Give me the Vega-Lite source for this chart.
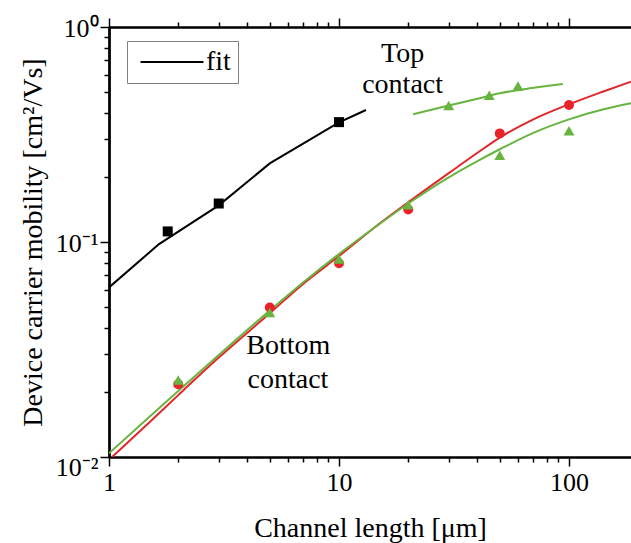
{
  "$schema": "https://vega.github.io/schema/vega-lite/v6.json",
  "width": 522,
  "height": 430,
  "autosize": {"type": "none"},
  "padding": {"left": 109, "top": 27, "right": 0, "bottom": 86},
  "config": {
    "view": {"stroke": null},
    "font": "Liberation Serif",
    "axis": {
      "domainColor": "black",
      "domainWidth": 2,
      "labelFont": "Liberation Serif",
      "labelFontSize": 26,
      "labelColor": "black",
      "titleFont": "Liberation Serif",
      "titleFontSize": 28,
      "titleFontWeight": "normal",
      "titleColor": "black",
      "labelOverlap": false,
      "labelFlush": false,
      "labelBound": false
    }
  },
  "datasets": {
    "redFit": [
      {"x": 1, "y": 0.0097}, {"x": 1.5, "y": 0.0145}, {"x": 2, "y": 0.0194}, {"x": 3, "y": 0.029},
      {"x": 5, "y": 0.0466}, {"x": 7, "y": 0.064}, {"x": 10, "y": 0.086}, {"x": 14, "y": 0.115},
      {"x": 20, "y": 0.153}, {"x": 30, "y": 0.209}, {"x": 40, "y": 0.26}, {"x": 50, "y": 0.306},
      {"x": 70, "y": 0.372}, {"x": 100, "y": 0.437}, {"x": 140, "y": 0.5}, {"x": 186, "y": 0.557}
    ],
    "greenFit": [
      {"g": "bottom", "x": 1, "y": 0.0104}, {"g": "bottom", "x": 1.5, "y": 0.0154}, {"g": "bottom", "x": 2, "y": 0.0203},
      {"g": "bottom", "x": 3, "y": 0.0298}, {"g": "bottom", "x": 5, "y": 0.048}, {"g": "bottom", "x": 7, "y": 0.065},
      {"g": "bottom", "x": 10, "y": 0.088}, {"g": "bottom", "x": 14, "y": 0.115}, {"g": "bottom", "x": 20, "y": 0.151},
      {"g": "bottom", "x": 30, "y": 0.2}, {"g": "bottom", "x": 40, "y": 0.238}, {"g": "bottom", "x": 50, "y": 0.27},
      {"g": "bottom", "x": 70, "y": 0.322}, {"g": "bottom", "x": 100, "y": 0.372}, {"g": "bottom", "x": 140, "y": 0.413},
      {"g": "bottom", "x": 186, "y": 0.442},
      {"g": "top", "x": 21, "y": 0.393}, {"g": "top", "x": 30, "y": 0.431}, {"g": "top", "x": 40, "y": 0.464},
      {"g": "top", "x": 50, "y": 0.492}, {"g": "top", "x": 65, "y": 0.515}, {"g": "top", "x": 80, "y": 0.531},
      {"g": "top", "x": 94, "y": 0.543}
    ],
    "blackFit": [
      {"series": "fit", "x": 1, "y": 0.0615}, {"series": "fit", "x": 1.65, "y": 0.0978}, {"series": "fit", "x": 3, "y": 0.148},
      {"series": "fit", "x": 5, "y": 0.232}, {"series": "fit", "x": 10, "y": 0.36}, {"series": "fit", "x": 13.1, "y": 0.411}
    ],
    "blackPts": [
      {"x": 1.8, "y": 0.112}, {"x": 3, "y": 0.151}, {"x": 10, "y": 0.361}
    ],
    "redPts": [
      {"x": 2, "y": 0.0218}, {"x": 5, "y": 0.0496}, {"x": 10, "y": 0.0797},
      {"x": 20, "y": 0.1417}, {"x": 50, "y": 0.32}, {"x": 100, "y": 0.434}
    ],
    "greenPts": [
      {"x": 2, "y": 0.0228}, {"x": 5, "y": 0.047}, {"x": 10, "y": 0.0833},
      {"x": 20, "y": 0.149}, {"x": 50, "y": 0.253}, {"x": 100, "y": 0.329},
      {"x": 30, "y": 0.431}, {"x": 45, "y": 0.482}, {"x": 60, "y": 0.532}
    ],
    "notes": [
      {"x": 18.9, "y": 0.69, "t": "Top"},
      {"x": 18.9, "y": 0.492, "t": "contact"},
      {"x": 6.02, "y": 0.03, "t": "Bottom"},
      {"x": 6.0, "y": 0.0209, "t": "contact"}
    ]
  },
  "resolve": {"axis": {"x": "independent", "y": "independent"}},
  "layer": [
    {
      "data": {"name": "redFit"},
      "mark": {"type": "line", "color": "#e3262b", "strokeWidth": 2, "interpolate": "monotone", "clip": true},
      "encoding": {
        "x": {
          "field": "x", "type": "quantitative",
          "scale": {"type": "log", "domain": [1, 186], "nice": false},
          "axis": {
            "orient": "bottom",
            "grid": false,
            "title": "Channel length [μm]",
            "titleY": 79,
            "titleBaseline": "alphabetic",
            "values": [1, 10, 100],
            "labelExpr": "format(datum.value, 'd')",
            "labelBaseline": "alphabetic",
            "tickColor": "black",
            "tickWidth": 1.5,
            "tickSize": 9,
            "labelPadding": 24
          }
        },
        "y": {
          "field": "y", "type": "quantitative",
          "scale": {"type": "log", "domain": [0.01, 1], "nice": false},
          "axis": {
            "orient": "left",
            "grid": false,
            "title": "Device carrier mobility [cm²/Vs]",
            "titleX": -68,
            "titleY": 215,
            "titleBaseline": "alphabetic",
            "values": [0.1, 1],
            "labelExpr": "datum.value == 1 ? '10⁰' : '10⁻¹'",
            "labelAlign": "right",
            "labelBaseline": "middle",
            "tickColor": "black",
            "tickWidth": 1.5,
            "tickSize": 9,
            "labelPadding": 2,
            "labelOffset": 1
          }
        }
      }
    },
    {
      "data": {"name": "greenFit"},
      "mark": {"type": "line", "color": "#67b441", "strokeWidth": 2, "interpolate": "monotone", "clip": true},
      "encoding": {
        "x": {
          "field": "x", "type": "quantitative",
          "scale": {"type": "log", "domain": [1, 186], "nice": false},
          "axis": {
            "orient": "bottom",
            "grid": false,
            "title": null,
            "labels": false,
            "values": [2, 3, 4, 5, 6, 7, 8, 9, 20, 30, 40, 50, 60, 70, 80, 90],
            "tickColor": "black",
            "tickWidth": 1.5,
            "tickSize": 5
          }
        },
        "y": {
          "field": "y", "type": "quantitative",
          "scale": {"type": "log", "domain": [0.01, 1], "nice": false},
          "axis": {
            "orient": "left",
            "grid": false,
            "title": null,
            "values": [0.01],
            "labelExpr": "'10⁻²'",
            "labelAlign": "right",
            "labelBaseline": "middle",
            "tickColor": "black",
            "tickWidth": 1.5,
            "tickSize": 9,
            "labelPadding": 2,
            "labelOffset": 10
          }
        },
        "detail": {"field": "g"}
      }
    },
    {
      "data": {"name": "blackFit"},
      "mark": {"type": "line", "strokeWidth": 2, "clip": true},
      "encoding": {
        "x": {
          "field": "x", "type": "quantitative",
          "scale": {"type": "log", "domain": [1, 186], "nice": false},
          "axis": {
            "orient": "top",
            "grid": false,
            "title": null,
            "labels": false,
            "values": [1, 10, 100],
            "tickColor": "black",
            "tickWidth": 1.5,
            "tickSize": 9
          }
        },
        "y": {
          "field": "y", "type": "quantitative",
          "scale": {"type": "log", "domain": [0.01, 1], "nice": false},
          "axis": {
            "orient": "left",
            "grid": false,
            "title": null,
            "labels": false,
            "values": [0.02, 0.03, 0.04, 0.05, 0.06, 0.07, 0.08, 0.09, 0.2, 0.3, 0.4, 0.5, 0.6, 0.7, 0.8, 0.9],
            "tickColor": "black",
            "tickWidth": 1.5,
            "tickSize": 5
          }
        },
        "color": {
          "field": "series", "type": "nominal",
          "scale": {"domain": ["fit"], "range": ["black"]},
          "legend": {
            "orient": "none",
            "legendX": 18,
            "legendY": 14,
            "title": null,
            "symbolType": "M-3,0H3",
            "symbolSize": 441,
            "symbolStrokeWidth": 2,
            "symbolOffset": 24,
            "labelOffset": 20,
            "labelFont": "Liberation Serif",
            "labelFontSize": 28,
            "labelColor": "black",
            "labelExpr": "datum.label + '\u2002'",
            "strokeColor": "#808080",
            "fillColor": "white",
            "padding": 7
          }
        }
      }
    },
    {
      "data": {"name": "blackPts"},
      "mark": {"type": "point", "shape": "square", "filled": true, "color": "black", "size": 100, "opacity": 1},
      "encoding": {
        "x": {
          "field": "x", "type": "quantitative",
          "scale": {"type": "log", "domain": [1, 186], "nice": false},
          "axis": {
            "orient": "top",
            "grid": false,
            "title": null,
            "labels": false,
            "values": [2, 3, 4, 5, 6, 7, 8, 9, 20, 30, 40, 50, 60, 70, 80, 90],
            "tickColor": "black",
            "tickWidth": 1.5,
            "tickSize": 5
          }
        },
        "y": {"field": "y", "type": "quantitative", "scale": {"type": "log", "domain": [0.01, 1], "nice": false}, "axis": null}
      }
    },
    {
      "data": {"name": "redPts"},
      "mark": {"type": "point", "shape": "circle", "filled": true, "color": "#e8232a", "size": 100, "opacity": 1},
      "encoding": {
        "x": {"field": "x", "type": "quantitative", "scale": {"type": "log", "domain": [1, 186], "nice": false}, "axis": null},
        "y": {"field": "y", "type": "quantitative", "scale": {"type": "log", "domain": [0.01, 1], "nice": false}, "axis": null}
      }
    },
    {
      "data": {"name": "greenPts"},
      "mark": {"type": "point", "shape": "triangle-up", "filled": true, "color": "#67b441", "size": 120, "opacity": 1},
      "encoding": {
        "x": {"field": "x", "type": "quantitative", "scale": {"type": "log", "domain": [1, 186], "nice": false}, "axis": null},
        "y": {"field": "y", "type": "quantitative", "scale": {"type": "log", "domain": [0.01, 1], "nice": false}, "axis": null}
      }
    },
    {
      "data": {"name": "notes"},
      "mark": {"type": "text", "font": "Liberation Serif", "fontSize": 28, "color": "black", "align": "center", "baseline": "alphabetic"},
      "encoding": {
        "x": {"field": "x", "type": "quantitative", "scale": {"type": "log", "domain": [1, 186], "nice": false}, "axis": null},
        "y": {"field": "y", "type": "quantitative", "scale": {"type": "log", "domain": [0.01, 1], "nice": false}, "axis": null},
        "text": {"field": "t"}
      }
    }
  ]
}
